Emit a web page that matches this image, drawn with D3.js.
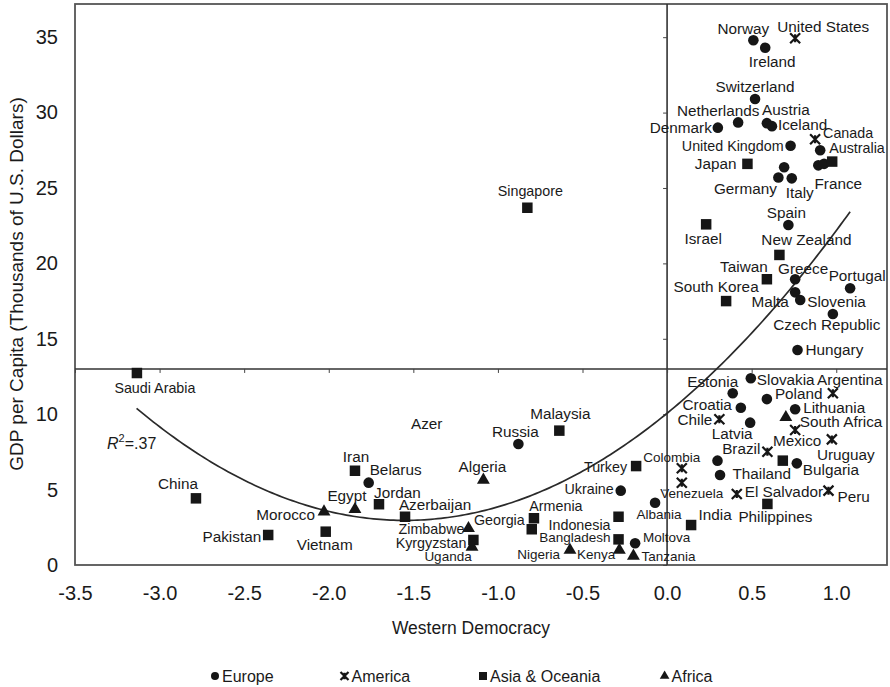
<!DOCTYPE html>
<html>
<head>
<meta charset="utf-8">
<script src="https://cdn.jsdelivr.net/npm/d3@7"></script>
<style>
  body { margin: 0; background: #fff; }
  svg { font-family: "Liberation Sans", Arial, sans-serif; }
</style>
</head>
<body>
<svg id="chart" width="890" height="687"></svg>
<script>
// rows: [country, western democracy, gdp per capita (thousands)]
var europe = [
  ["Norway", 0.51, 34.8], ["Ireland", 0.58, 34.3], ["Switzerland", 0.52, 30.9],
  ["Netherlands", 0.42, 29.35], ["Austria", 0.59, 29.3], ["Iceland", 0.62, 29.1],
  ["Denmark", 0.30, 29.0], ["United Kingdom", 0.73, 27.8], ["", 0.905, 27.5],
  ["France", 0.894, 26.5], ["", 0.928, 26.6], ["", 0.692, 26.37],
  ["Germany", 0.658, 25.7], ["Italy", 0.737, 25.64], ["Spain", 0.717, 22.55],
  ["Greece", 0.757, 18.95], ["Portugal", 1.082, 18.35], ["Malta", 0.757, 18.08],
  ["Slovenia", 0.787, 17.57], ["Czech Republic", 0.98, 16.64], ["Hungary", 0.771, 14.26],
  ["Slovakia", 0.495, 12.38], ["Estonia", 0.388, 11.39], ["Poland", 0.59, 11.0],
  ["Croatia", 0.436, 10.43], ["Lithuania", 0.757, 10.33], ["Latvia", 0.491, 9.44],
  ["Bulgaria", 0.767, 6.74], ["", 0.298, 6.92], ["", 0.313, 5.97],
  ["Russia", -0.879, 8.02], ["Belarus", -1.764, 5.46], ["Ukraine", -0.274, 4.93],
  ["Albania", -0.071, 4.13], ["Moltova", -0.189, 1.44]
];

var america = [
  ["United States", 0.757, 34.93], ["Canada", 0.875, 28.23], ["Argentina", 0.98, 11.39],
  ["Chile", 0.309, 9.66], ["Mexico", 0.757, 8.95], ["Uruguay", 0.974, 8.33],
  ["Brazil", 0.593, 7.51], ["Colombia", 0.087, 6.41], ["Venezuela", 0.087, 5.46],
  ["El Salvador", 0.412, 4.71], ["Peru", 0.954, 4.93]
];

var asia = [
  ["Japan", 0.475, 26.6], ["Australia", 0.976, 26.75], ["Singapore", -0.826, 23.69],
  ["Israel", 0.231, 22.59], ["New Zealand", 0.664, 20.56], ["Taiwan", 0.59, 18.95],
  ["South Korea", 0.349, 17.5], ["Saudi Arabia", -3.134, 12.73], ["Malaysia", -0.637, 8.91],
  ["Turkey", -0.183, 6.56], ["Thailand", 0.684, 6.92], ["Philippines", 0.593, 4.05],
  ["India", 0.142, 2.65], ["Iran", -1.845, 6.25], ["Jordan", -1.703, 4.03],
  ["China", -2.785, 4.42], ["Pakistan", -2.358, 1.99], ["Vietnam", -2.018, 2.21],
  ["Azerbaijan", -1.549, 3.2], ["Armenia", -0.787, 3.1], ["Georgia", -0.80, 2.37],
  ["Indonesia", -0.287, 3.2], ["Bangladesh", -0.287, 1.70], ["Kyrgyzstan", -1.145, 1.66]
];

var africa = [
  ["South Africa", 0.702, 9.79], ["Algeria", -1.086, 5.64], ["Egypt", -1.845, 3.69],
  ["Morocco", -2.028, 3.53], ["Zimbabwe", -1.174, 2.43], ["Uganda", -1.153, 1.19],
  ["Nigeria", -0.574, 0.99], ["Kenya", -0.282, 0.99], ["Tanzania", -0.199, 0.6]
];

var regions = ["Europe", "America", "Asia & Oceania", "Africa"];
var xTicks = [-3.5, -3.0, -2.5, -2.0, -1.5, -1.0, -0.5, 0.0, 0.5, 1.0];
var yTicks = [0, 5, 10, 15, 20, 25, 30, 35];

// quadratic fit drawn on the chart, y = a x^2 + b x + c
var fitCoef = [2.954, 9.16, 10.06];
var fitRange = [-3.136, 1.082];
var stray = ["Azer", -1.421, 9.4];  // lone label in the figure

// label placement: [dx, dy, anchor]
var labelAt = {
  "Norway": [-10, -12, "middle"], "Ireland": [7, 14, "middle"], "Switzerland": [0, -12, "middle"],
  "Netherlands": [-20, -12, "middle"], "Austria": [19, -13, "middle"], "Iceland": [6, -2, "start"],
  "Denmark": [-6, 0, "end"], "United Kingdom": [-7, 0, "end"], "France": [20, 18, "middle"],
  "Germany": [-33, 11, "middle"], "Italy": [8, 14, "middle"], "Spain": [-2, -12, "middle"],
  "Greece": [8, -11, "middle"], "Portugal": [7, -13, "middle"], "Malta": [-25, 9, "middle"],
  "Slovenia": [7, 2, "start"], "Czech Republic": [-6, 11, "middle"], "Hungary": [8, 0, "start"],
  "Slovakia": [6, 1, "start"], "Estonia": [-20, -12, "middle"], "Poland": [8, -5, "start"],
  "Croatia": [-9, -3, "end"], "Lithuania": [8, -2, "start"], "Latvia": [-18, 11, "middle"],
  "Bulgaria": [6, 6, "start"], "Russia": [-3, -12, "middle"], "Belarus": [1, -13, "start"],
  "Ukraine": [-7, -2, "end"], "Albania": [4, 12, "middle"], "Moltova": [8, -6, "start"],
  "United States": [28, -12, "middle"], "Canada": [8, -6, "start"], "Argentina": [17, -14, "middle"],
  "Chile": [-7, 0, "end"], "Mexico": [2, 11, "middle"], "Uruguay": [14, 15, "middle"],
  "Brazil": [-7, -3, "end"], "Colombia": [-10, -11, "middle"], "Venezuela": [10, 11, "middle"],
  "El Salvador": [8, -2, "start"], "Peru": [9, 6, "start"],
  "Japan": [-11, 0, "end"], "Australia": [-3, -14, "start"], "Singapore": [3, -17, "middle"],
  "Israel": [-3, 14, "middle"], "New Zealand": [27, -15, "middle"], "Taiwan": [-23, -13, "middle"],
  "South Korea": [-10, -14, "middle"], "Saudi Arabia": [18, 15, "middle"], "Malaysia": [1, -17, "middle"],
  "Turkey": [-9, 1, "end"], "Thailand": [-21, 13, "middle"], "Philippines": [8, 13, "middle"],
  "India": [24, -10, "middle"], "Iran": [1, -14, "middle"], "Jordan": [-5, -12, "start"],
  "China": [-18, -15, "middle"], "Pakistan": [-7, 2, "end"], "Vietnam": [-1, 13, "middle"],
  "Azerbaijan": [30, -12, "middle"], "Armenia": [22, -12, "middle"], "Georgia": [-7, -9, "end"],
  "Indonesia": [-8, 8, "end"], "Bangladesh": [-8, -2, "end"], "Kyrgyzstan": [-7, 3, "end"],
  "South Africa": [14, 4, "start"], "Algeria": [-1, -13, "middle"], "Egypt": [-8, -14, "middle"],
  "Morocco": [-9, 3, "end"], "Zimbabwe": [-4, 1, "end"], "Uganda": [-24, 9, "middle"],
  "Nigeria": [-10, 4, "end"], "Kenya": [-4, 4, "end"], "Tanzania": [8, 0, "start"]
};
var smallLabels = ["Colombia", "Venezuela", "Albania", "Moltova", "Bangladesh", "Nigeria", "Kenya", "Tanzania", "Uganda"];
var midLabels = ["Indonesia", "Armenia", "Georgia", "Turkey", "Ukraine", "Kyrgyzstan", "Zimbabwe", "Canada", "Australia", "United Kingdom", "Saudi Arabia", "Singapore"];

var svg = d3.select("#chart");
var ink = "#161616";

var x = d3.scaleLinear().domain([-3.5, 1.3]).range([75, 887]);
var y = d3.scaleLinear().domain([0, 37.2]).range([565, 4]);

// frame
svg.append("rect")
  .attr("x", x(-3.5)).attr("y", y(37.2))
  .attr("width", x(1.3) - x(-3.5)).attr("height", y(0) - y(37.2))
  .attr("fill", "none").attr("stroke", "#555").attr("stroke-width", 1.8);

// quadrant lines
svg.append("line")
  .attr("x1", x(0)).attr("x2", x(0)).attr("y1", y(0)).attr("y2", y(37.2))
  .attr("stroke", "#333").attr("stroke-width", 1.6);
svg.append("line")
  .attr("x1", x(-3.5)).attr("x2", x(1.3)).attr("y1", y(13)).attr("y2", y(13))
  .attr("stroke", "#333").attr("stroke-width", 1.6);

// little ticks on the quadrant lines
svg.append("g")
  .attr("transform", `translate(0,${y(13)})`)
  .call(d3.axisBottom(x).tickValues(xTicks).tickSize(4).tickFormat(""))
  .call(g => g.select(".domain").remove())
  .call(g => g.selectAll("line").attr("stroke", "#444"));
svg.append("g")
  .attr("transform", `translate(${x(0)},0)`)
  .call(d3.axisLeft(y).tickValues(yTicks).tickSize(4).tickFormat(""))
  .call(g => g.select(".domain").remove())
  .call(g => g.selectAll("line").attr("stroke", "#444"));

// tick labels (plain hyphen minus, as in the figure)
var xAxis = svg.append("g")
  .attr("transform", `translate(0,${y(0)})`)
  .call(d3.axisBottom(x).tickValues(xTicks).tickSize(0).tickPadding(21).tickFormat(d => d.toFixed(1)));
xAxis.select(".domain").remove();
xAxis.selectAll("text").attr("font-size", 20).attr("font-family", null).attr("fill", "#1a1a1a");

var yAxis = svg.append("g")
  .attr("transform", `translate(${x(-3.5)},0)`)
  .call(d3.axisLeft(y).tickValues(yTicks).tickSize(0).tickPadding(17));
yAxis.select(".domain").remove();
yAxis.selectAll("text").attr("font-size", 20).attr("font-family", null).attr("fill", "#1a1a1a");

// axis titles
svg.append("text")
  .attr("x", 471).attr("y", 634)
  .attr("text-anchor", "middle").attr("font-size", 17.5).attr("fill", "#1a1a1a")
  .text("Western Democracy");
svg.append("text")
  .attr("transform", "translate(23,284) rotate(-90)")
  .attr("text-anchor", "middle").attr("font-size", 19).attr("fill", "#1a1a1a")
  .text("GDP per Capita (Thousands of U.S. Dollars)");

// fitted curve
var fit = v => fitCoef[0] * v * v + fitCoef[1] * v + fitCoef[2];
var curveX = d3.range(fitRange[0], fitRange[1], 0.02).concat([fitRange[1]]);
svg.append("path")
  .datum(curveX)
  .attr("fill", "none").attr("stroke", "#2a2a2a").attr("stroke-width", 1.7)
  .attr("d", d3.line().x(d => x(d)).y(d => y(fit(d))));

var r2 = svg.append("text")
  .attr("x", x(-3.5) + 32).attr("y", 449)
  .attr("font-size", 16).attr("fill", "#1a1a1a");
r2.append("tspan").attr("font-style", "italic").text("R");
r2.append("tspan").attr("font-size", 11).attr("dy", -7).text("2");
r2.append("tspan").attr("dy", 7).text("=.37");

// markers
var symbols = {
  "Europe": s => d3.symbol(d3.symbolCircle, Math.PI * s * s / 4)(),
  "Asia & Oceania": s => d3.symbol(d3.symbolSquare, s * s)(),
  "Africa": s => d3.symbol(d3.symbolTriangle, s * s * 0.5)(),
  "America": s => { var h = s / 2; return `M${-h},${-h}L${h},${h}M${-h},${h}L${h},${-h}M0,${-h * 0.8}L0,${h * 0.8}`; }
};

function drawMark(sel, region, size) {
  var p = sel.append("path").attr("d", symbols[region](size));
  if (region === "America") p.attr("fill", "none").attr("stroke", ink).attr("stroke-width", 2.2);
  else p.attr("fill", ink);
}

var groups = [[europe, "Europe", 10.6], [america, "America", 10], [asia, "Asia & Oceania", 10.5], [africa, "Africa", 12]];

var marks = svg.append("g");
groups.forEach(function (gr) {
  gr[0].forEach(function (d) {
    var g = marks.append("g").attr("transform", `translate(${x(d[1])},${y(d[2])})`);
    drawMark(g, gr[1], gr[2]);
  });
});

var labels = svg.append("g").attr("fill", "#1a1a1a");
groups.forEach(function (gr) {
  gr[0].filter(d => d[0] && labelAt[d[0]]).forEach(function (d) {
    var L = labelAt[d[0]];
    var fs = smallLabels.indexOf(d[0]) >= 0 ? 13.5 : (midLabels.indexOf(d[0]) >= 0 ? 14.3 : 15.3);
    labels.append("text")
      .attr("x", x(d[1]) + L[0]).attr("y", y(d[2]) + L[1])
      .attr("dy", "0.35em").attr("text-anchor", L[2]).attr("font-size", fs)
      .text(d[0]);
  });
});
labels.append("text")
  .attr("x", x(stray[1])).attr("y", y(stray[2])).attr("dy", "0.35em")
  .attr("text-anchor", "middle").attr("font-size", 15.3).text(stray[0]);

// legend
var legendX = [215, 344.5, 483, 664.6];
var legend = svg.append("g").attr("transform", "translate(0,676)");
regions.forEach(function (r, i) {
  var g = legend.append("g").attr("transform", `translate(${legendX[i]},0)`);
  drawMark(g, r, r === "Africa" ? 9 : 8);
  g.append("text").attr("x", 7).attr("dy", "0.35em").attr("font-size", 16).attr("fill", "#1a1a1a").text(r);
});
</script>
</body>
</html>
